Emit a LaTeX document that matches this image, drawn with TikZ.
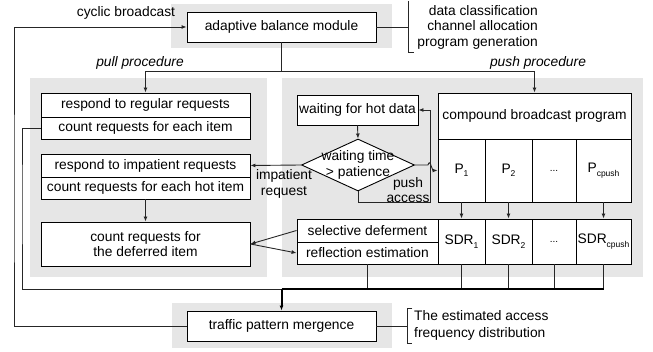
\documentclass[tikz,border=0pt]{standalone}
\usepackage{fontspec}
\setmainfont{Liberation Sans}
\usetikzlibrary{shapes.geometric,arrows.meta,calc}
\definecolor{panelgray}{RGB}{230,230,230}
\newcommand{\figfont}{\fontsize{13.8}{15.5}\selectfont}
\newcommand{\cellsub}[1]{\raisebox{-3.5pt}{\fontsize{8.5}{9}\selectfont #1}}
\newcommand{\celldots}{{\fontsize{10}{10}\selectfont ...}}

\begin{document}
\begin{tikzpicture}[x=1pt,y=-1pt,
  font=\figfont,
  block/.style={rectangle,draw,fill=white,inner sep=0pt,line width=0.9pt},
  decision/.style={diamond,draw,fill=white,inner sep=0pt,
    minimum width=113pt,minimum height=52pt,line width=0.9pt},
  lbl/.style={inner sep=0pt},
  flow/.style={line width=0.9pt,draw=black!85},
  arr/.style={flow,-{Latex[length=5pt,width=4pt]}},
  merge/.style={line width=2pt}]
  \useasboundingbox (0,0) rectangle (653,352);
  % Panels
  \fill[panelgray] (171,4) rectangle (392,48);
  \fill[panelgray] (30,78) rectangle (267,277);
  \fill[panelgray] (282,78) rectangle (643,277);
  \fill[panelgray] (172,303) rectangle (392,348);
  % Blocks
  \node[block,minimum width=189pt,minimum height=30pt] (abm) at (281.5,27) {adaptive balance module};
  \node[block,minimum width=209pt,minimum height=24pt] (regular) at (145.5,105) {respond to regular requests};
  \node[block,minimum width=209pt,minimum height=22pt] (countall) at (145.5,128) {count requests for each item};
  \node[block,minimum width=209pt,minimum height=23pt] (impatient) at (145.5,165.5) {respond to impatient requests};
  \node[block,minimum width=209pt,minimum height=22pt] (counthot) at (145.5,188) {count requests for each hot item};
  \node[block,minimum width=209pt,minimum height=44pt,align=center] (deferred) at (145.5,244) {count requests for\\the deferred item};
  \node[block,minimum width=121pt,minimum height=30pt] (waiting) at (357.5,110) {waiting for hot data};
  \node[decision] (decide) at (358,165) {};
  \node[lbl,align=center,font=\fontsize{13.8}{16}\selectfont] (decidetext) at (decide.center) {waiting time\\> patience};
  \node[block,minimum width=193pt,minimum height=46pt] (compound) at (534.5,116) {compound broadcast program};
  \foreach \n/\x/\w/\lab in {1/461.5/47/{P\cellsub{1}},2/508.5/47/{P\cellsub{2}},
      d/554/44/{\celldots},c/603.5/55/{P\cellsub{cpush}}}
    \node[block,minimum width=\w pt,minimum height=63pt] (p\n) at (\x,170.5) {\lab};
  \foreach \n/\x/\w/\lab in {1/461.5/47/{SDR\cellsub{1}},2/508.5/47/{SDR\cellsub{2}},
      d/554/44/{\celldots},c/603.5/55/{SDR\cellsub{cpush}}}
    \node[block,minimum width=\w pt,minimum height=45pt] (sdr\n) at (\x,241.5) {\lab};
  \node[block,minimum width=141pt,minimum height=23pt] (selective) at (367.5,230.5) {selective deferment};
  \node[block,minimum width=141pt,minimum height=22pt] (reflection) at (367.5,253) {reflection estimation};
  \node[block,minimum width=189pt,minimum height=30pt] (traffic) at (281.5,326) {traffic pattern mergence};
  % Labels
  \node[lbl] (cyclic) at (126,13) {cyclic broadcast};
  \node[lbl,font=\figfont\itshape] (pull) at (140,63) {pull procedure};
  \node[lbl,font=\figfont\itshape] (push) at (538,63) {push procedure};
  \node[lbl,align=right,anchor=east] (tasks) at (538,27) {data classification\\channel allocation\\program generation};
  \node[lbl,align=center] (implabel) at (284,184) {impatient\\request};
  \node[lbl,align=center] (pushlabel) at (408,190) {push\\access};
  \node[lbl,align=left,anchor=west,font=\fontsize{13.8}{17}\selectfont] (estimate) at (414,325)
    {The estimated access\\frequency distribution};
  % Connectors
  \draw[flow] (abm.south) -- ++(0,29) coordinate (split);
  \draw[arr] (split) -| (regular.north);
  \draw[arr] (split) -| (compound.north);
  \coordinate (outer) at (14,200);
  \draw[arr] (traffic.west) -| (outer) |- (abm.west);
  \coordinate (inner) at (22,200);
  \coordinate (merge) at (281.5,289);
  \draw[flow] (countall.west) -| (inner) |- (merge);
  \foreach \n in {reflection,sdr1,sdr2,sdrd,sdrc}
    \draw[flow] (\n.south) -- (\n.south |- merge);
  \draw[merge] (merge) -- (merge -| sdrc.south);
  \draw[merge,-{Latex[length=5pt,width=4pt]}] (merge) -- (traffic.north);
  \draw[arr] (waiting.south) -- (decide.north);
  \draw[arr] (decide.west) -- (impatient.east);
  \coordinate (loop) at (430,202);
  \draw[arr] (decide.south) |- (loop) |- (waiting.east);
  \draw[arr] (decide.east) -- ++(13,0) .. controls +(2,-6) and +(-2,-4) .. ++(5,5.5) -- (p1.west);
  \foreach \n in {1,2,c}
    \draw[arr] (p\n.south) -- (sdr\n.north);
  \draw[arr] (counthot.south) -- (deferred.north);
  \draw[arr] (selective.west) -- (deferred.east);
  \draw[arr] (deferred.east) -- (reflection.west);
  % Brackets
  \draw[flow] (abm.east) -- ++(32,0) coordinate (tb);
  \draw[flow] ([yshift=26pt]tb) -- ([yshift=-25pt]tb) -- ++(6,0);
  \draw[flow] (traffic.east) -- ++(31,0) coordinate (bb);
  \draw[flow] ([shift={(5pt,18pt)}]bb) -- ([yshift=18pt]bb) -- ([yshift=-17pt]bb) -- ++(5,0);
\end{tikzpicture}
\end{document}
